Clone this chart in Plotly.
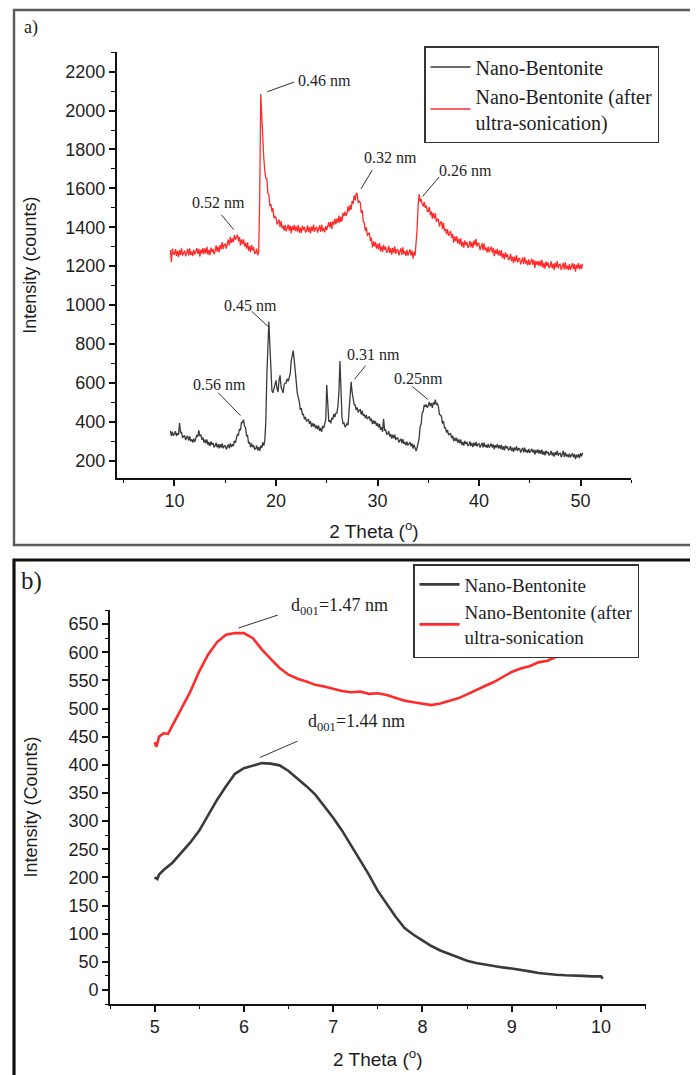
import plotly.graph_objects as go

# ---------------- panel a data (2 theta, degrees) ----------------
TWO_THETA_A = [
    9.6, 9.7, 9.8, 9.9,
    10.0, 10.1, 10.2, 10.3, 10.4, 10.5, 10.6, 10.7, 10.8, 10.9,
    11.0, 11.1, 11.2, 11.3, 11.4, 11.5, 11.6, 11.7, 11.8, 11.9,
    12.0, 12.1, 12.2, 12.3, 12.4, 12.5, 12.6, 12.7, 12.8, 12.9,
    13.0, 13.1, 13.2, 13.3, 13.4, 13.5, 13.6, 13.7, 13.8, 13.9,
    14.0, 14.1, 14.2, 14.3, 14.4, 14.5, 14.6, 14.7, 14.8, 14.9,
    15.0, 15.1, 15.2, 15.3, 15.4, 15.5, 15.6, 15.7, 15.8, 15.9,
    16.0, 16.1, 16.2, 16.3, 16.4, 16.5, 16.6, 16.7, 16.8, 16.9,
    17.0, 17.1, 17.2, 17.3, 17.4, 17.5, 17.6, 17.7, 17.8, 17.9,
    18.0, 18.1, 18.2, 18.3, 18.4, 18.5, 18.6, 18.7, 18.8, 18.9,
    19.0, 19.1, 19.2, 19.3, 19.4, 19.5, 19.6, 19.7, 19.8, 19.9,
    20.0, 20.1, 20.2, 20.3, 20.4, 20.5, 20.6, 20.7, 20.8, 20.9,
    21.0, 21.1, 21.2, 21.3, 21.4, 21.5, 21.6, 21.7, 21.8, 21.9,
    22.0, 22.1, 22.2, 22.3, 22.4, 22.5, 22.6, 22.7, 22.8, 22.9,
    23.0, 23.1, 23.2, 23.3, 23.4, 23.5, 23.6, 23.7, 23.8, 23.9,
    24.0, 24.1, 24.2, 24.3, 24.4, 24.5, 24.6, 24.7, 24.8, 24.9,
    25.0, 25.1, 25.2, 25.3, 25.4, 25.5, 25.6, 25.7, 25.8, 25.9,
    26.0, 26.1, 26.2, 26.3, 26.4, 26.5, 26.6, 26.7, 26.8, 26.9,
    27.0, 27.1, 27.2, 27.3, 27.4, 27.5, 27.6, 27.7, 27.8, 27.9,
    28.0, 28.1, 28.2, 28.3, 28.4, 28.5, 28.6, 28.7, 28.8, 28.9,
    29.0, 29.1, 29.2, 29.3, 29.4, 29.5, 29.6, 29.7, 29.8, 29.9,
    30.0, 30.1, 30.2, 30.3, 30.4, 30.5, 30.6, 30.7, 30.8, 30.9,
    31.0, 31.1, 31.2, 31.3, 31.4, 31.5, 31.6, 31.7, 31.8, 31.9,
    32.0, 32.1, 32.2, 32.3, 32.4, 32.5, 32.6, 32.7, 32.8, 32.9,
    33.0, 33.1, 33.2, 33.3, 33.4, 33.5, 33.6, 33.7, 33.8, 33.9,
    34.0, 34.1, 34.2, 34.3, 34.4, 34.5, 34.6, 34.7, 34.8, 34.9,
    35.0, 35.1, 35.2, 35.3, 35.4, 35.5, 35.6, 35.7, 35.8, 35.9,
    36.0, 36.1, 36.2, 36.3, 36.4, 36.5, 36.6, 36.7, 36.8, 36.9,
    37.0, 37.1, 37.2, 37.3, 37.4, 37.5, 37.6, 37.7, 37.8, 37.9,
    38.0, 38.1, 38.2, 38.3, 38.4, 38.5, 38.6, 38.7, 38.8, 38.9,
    39.0, 39.1, 39.2, 39.3, 39.4, 39.5, 39.6, 39.7, 39.8, 39.9,
    40.0, 40.1, 40.2, 40.3, 40.4, 40.5, 40.6, 40.7, 40.8, 40.9,
    41.0, 41.1, 41.2, 41.3, 41.4, 41.5, 41.6, 41.7, 41.8, 41.9,
    42.0, 42.1, 42.2, 42.3, 42.4, 42.5, 42.6, 42.7, 42.8, 42.9,
    43.0, 43.1, 43.2, 43.3, 43.4, 43.5, 43.6, 43.7, 43.8, 43.9,
    44.0, 44.1, 44.2, 44.3, 44.4, 44.5, 44.6, 44.7, 44.8, 44.9,
    45.0, 45.1, 45.2, 45.3, 45.4, 45.5, 45.6, 45.7, 45.8, 45.9,
    46.0, 46.1, 46.2, 46.3, 46.4, 46.5, 46.6, 46.7, 46.8, 46.9,
    47.0, 47.1, 47.2, 47.3, 47.4, 47.5, 47.6, 47.7, 47.8, 47.9,
    48.0, 48.1, 48.2, 48.3, 48.4, 48.5, 48.6, 48.7, 48.8, 48.9,
    49.0, 49.1, 49.2, 49.3, 49.4, 49.5, 49.6, 49.7, 49.8, 49.9,
    50.0, 50.1, 50.2,
]

NANO_BENTONITE_A = [
    352, 326, 348, 330,
    335, 351, 326, 341, 331, 392, 343, 345, 316, 326,
    327, 305, 320, 326, 302, 324, 300, 309, 292, 312,
    296, 315, 331, 323, 355, 325, 333, 307, 318, 292,
    308, 288, 308, 280, 295, 274, 298, 281, 290, 270,
    275, 292, 268, 284, 262, 284, 267, 288, 263, 275,
    277, 257, 274, 283, 262, 288, 269, 284, 274, 301,
    291, 315, 335, 329, 362, 355, 396, 395, 410, 377,
    370, 327, 329, 288, 295, 268, 288, 269, 278, 258,
    261, 277, 252, 269, 250, 277, 265, 293, 276, 304,
    400, 640, 830, 915, 790, 655, 560, 548, 575, 585,
    612, 570, 552, 612, 638, 578, 565, 548, 590, 598,
    598, 620, 608, 634, 645, 712, 740, 765, 715, 655,
    607, 547, 524, 502, 460, 469, 437, 438, 413, 424,
    401, 410, 413, 389, 402, 373, 392, 375, 389, 365,
    380, 360, 380, 352, 367, 348, 377, 367, 388, 410,
    588, 483, 400, 407, 391, 419, 411, 440, 423, 444,
    445, 478, 555, 712, 548, 425, 390, 393, 372, 382,
    390, 382, 444, 512, 605, 551, 518, 487, 486, 460,
    472, 447, 459, 462, 436, 456, 430, 437, 418, 435,
    413, 423, 427, 403, 416, 387, 406, 389, 403, 378,
    392, 370, 388, 358, 371, 348, 415, 357, 358, 335,
    337, 351, 324, 337, 313, 333, 314, 333, 306, 316,
    316, 293, 307, 312, 288, 310, 286, 295, 278, 297,
    277, 289, 295, 273, 288, 261, 282, 265, 248, 267,
    300, 312, 374, 388, 445, 451, 487, 477, 488, 472,
    480, 501, 480, 495, 471, 499, 488, 513, 486, 492,
    477, 437, 434, 427, 390, 402, 368, 369, 344, 357,
    331, 339, 341, 315, 328, 299, 318, 301, 316, 292,
    308, 288, 308, 280, 296, 276, 301, 285, 295, 276,
    280, 298, 274, 290, 269, 292, 275, 296, 272, 285,
    287, 267, 283, 291, 268, 292, 269, 280, 265, 285,
    266, 279, 287, 266, 283, 258, 279, 267, 284, 263,
    279, 260, 281, 255, 272, 252, 278, 263, 272, 254,
    257, 274, 250, 266, 245, 267, 252, 273, 249, 261,
    262, 241, 257, 265, 242, 266, 243, 254, 239, 259,
    240, 253, 260, 241, 256, 230, 254, 240, 257, 236,
    253, 234, 256, 229, 247, 226, 251, 236, 245, 228,
    232, 249, 226, 241, 220, 243, 228, 249, 225, 236,
    238, 217, 234, 250, 218, 242, 221, 231, 216, 235,
    216, 229, 237, 217, 233, 207, 230, 216, 232, 212,
    238, 222, 240,
]

NANO_BENTONITE_SONIC_A = [
    1283, 1222, 1290, 1262,
    1260, 1288, 1253, 1278, 1246, 1282, 1258, 1292, 1254, 1274,
    1280, 1250, 1276, 1288, 1254, 1292, 1258, 1274, 1252, 1284,
    1259, 1281, 1293, 1263, 1289, 1249, 1285, 1265, 1293, 1261,
    1292, 1265, 1299, 1259, 1285, 1257, 1295, 1272, 1289, 1261,
    1277, 1307, 1274, 1301, 1271, 1309, 1287, 1323, 1287, 1309,
    1315, 1290, 1320, 1337, 1307, 1350, 1320, 1341, 1323, 1360,
    1336, 1354, 1362, 1328, 1350, 1306, 1338, 1314, 1338, 1302,
    1320, 1290, 1322, 1279, 1303, 1272, 1308, 1282, 1297, 1266,
    1268, 1290, 1255, 1276, 1560, 2085, 1960, 1790, 1755, 1690,
    1652, 1650, 1575, 1570, 1508, 1519, 1480, 1499, 1446, 1456,
    1450, 1414, 1434, 1440, 1400, 1432, 1395, 1408, 1383, 1412,
    1379, 1401, 1413, 1383, 1409, 1369, 1405, 1385, 1412, 1380,
    1405, 1378, 1412, 1372, 1398, 1370, 1408, 1385, 1402, 1374,
    1382, 1410, 1375, 1400, 1368, 1404, 1380, 1414, 1376, 1396,
    1402, 1372, 1398, 1410, 1376, 1414, 1380, 1396, 1374, 1406,
    1386, 1411, 1426, 1399, 1428, 1391, 1430, 1413, 1444, 1415,
    1445, 1422, 1460, 1424, 1454, 1430, 1474, 1457, 1480, 1458,
    1472, 1508, 1481, 1514, 1490, 1534, 1520, 1564, 1538, 1576,
    1570, 1525, 1536, 1528, 1474, 1487, 1428, 1424, 1382, 1399,
    1356, 1368, 1370, 1330, 1346, 1296, 1327, 1302, 1325, 1290,
    1315, 1286, 1319, 1277, 1302, 1272, 1309, 1284, 1300, 1270,
    1277, 1304, 1268, 1292, 1259, 1294, 1269, 1302, 1263, 1282,
    1285, 1255, 1280, 1292, 1258, 1296, 1262, 1276, 1253, 1284,
    1254, 1275, 1286, 1255, 1280, 1239, 1274, 1254, 1320, 1388,
    1510, 1570, 1532, 1545, 1520, 1508, 1530, 1500, 1512, 1482,
    1482, 1504, 1463, 1482, 1444, 1474, 1444, 1472, 1428, 1442,
    1440, 1404, 1424, 1430, 1390, 1422, 1382, 1392, 1364, 1390,
    1356, 1373, 1380, 1345, 1366, 1321, 1353, 1329, 1353, 1317,
    1340, 1311, 1343, 1301, 1325, 1295, 1332, 1308, 1324, 1295,
    1302, 1330, 1297, 1324, 1294, 1332, 1308, 1340, 1300, 1318,
    1315, 1283, 1307, 1317, 1281, 1317, 1281, 1295, 1271, 1301,
    1271, 1291, 1301, 1269, 1293, 1251, 1285, 1263, 1289, 1255,
    1280, 1251, 1283, 1241, 1265, 1235, 1271, 1246, 1261, 1231,
    1237, 1263, 1226, 1249, 1215, 1249, 1224, 1257, 1218, 1237,
    1240, 1209, 1234, 1245, 1210, 1247, 1213, 1229, 1204, 1235,
    1206, 1227, 1238, 1207, 1232, 1191, 1227, 1206, 1226, 1201,
    1227, 1199, 1233, 1192, 1217, 1187, 1224, 1200, 1219, 1191,
    1197, 1224, 1189, 1213, 1181, 1217, 1193, 1226, 1188, 1207,
    1210, 1180, 1205, 1217, 1182, 1220, 1186, 1202, 1179, 1211,
    1181, 1203, 1215, 1185, 1211, 1171, 1207, 1187, 1215, 1183,
    1208, 1186, 1212,
]

LABELS_A = ["0.52 nm", "0.46 nm", "0.32 nm", "0.26 nm",
            "0.45 nm", "0.56 nm", "0.31 nm", "0.25nm"]
LABEL_X_A = [14.31, 24.77, 31.32, 38.71, 17.47, 14.4, 29.57, 34.0]
LABEL_Y_A = [1526, 2153, 1757, 1694, 997, 589, 745, 621]
LEADER_X0_A = [14.62, 19.14, 29.48, 36.07, 17.61, 14.31, 28.82, 33.43]
LEADER_Y0_A = [1464, 2097, 1694, 1659, 967, 549, 688, 581]
LEADER_X1_A = [15.84, 21.79, 28.37, 34.44, 19.28, 16.5, 27.72, 34.97]
LEADER_Y1_A = [1388, 2147, 1597, 1558, 887, 431, 617, 514]

# ---------------- panel b data ----------------
TWO_THETA_B_BLACK = [
    5.00, 5.03, 5.05, 5.1, 5.2, 5.3, 5.4, 5.5, 5.6, 5.7, 5.8, 5.9,
    6.0, 6.1, 6.2, 6.3, 6.4, 6.5, 6.6, 6.7, 6.8, 6.9,
    7.0, 7.1, 7.2, 7.3, 7.4, 7.5, 7.6, 7.7, 7.8, 7.9,
    8.0, 8.1, 8.2, 8.3, 8.4, 8.5, 8.6, 8.7, 8.8, 8.9,
    9.0, 9.1, 9.2, 9.3, 9.4, 9.5, 9.6, 9.7, 9.8, 9.9,
    10.0, 10.02,
]
NANO_BENTONITE_B = [
    200, 197, 205, 213, 226, 244, 262, 283, 310, 338, 362, 384,
    394, 399, 403, 402, 399, 389, 376, 362, 347, 327,
    306, 283, 257, 233, 205, 176, 152, 130, 110, 98,
    88, 78, 70, 64, 57, 52, 48, 45, 42, 40,
    38, 36, 33, 30, 28, 27, 26, 26, 25, 24,
    24, 20,
]

TWO_THETA_B_RED = [
    5.00, 5.02, 5.05, 5.1, 5.15, 5.2, 5.3, 5.4, 5.5, 5.6, 5.7, 5.8, 5.9,
    6.0, 6.1, 6.2, 6.3, 6.4, 6.5, 6.6, 6.7, 6.8, 6.9,
    7.0, 7.1, 7.2, 7.3, 7.4, 7.5, 7.6, 7.7, 7.8, 7.9,
    8.0, 8.1, 8.2, 8.3, 8.4, 8.5, 8.6, 8.7, 8.8, 8.9,
    9.0, 9.1, 9.2, 9.3, 9.4, 9.5, 9.6, 9.7, 9.8, 9.9,
    9.95, 10.0, 10.02,
]
NANO_BENTONITE_SONIC_B = [
    440, 432, 450, 456, 455, 470, 500, 530, 566, 596, 618, 631, 634,
    634, 625, 605, 588, 572, 560, 553, 548, 542, 539,
    535, 531, 529, 530, 526, 527, 524, 519, 514, 511,
    508, 506, 509, 513, 518, 525, 533, 540, 547, 556,
    565, 571, 575, 582, 585, 592, 598, 604, 607, 612,
    605, 612, 620,
]

LABELS_B = ["d<sub>001</sub>=1.47 nm", "d<sub>001</sub>=1.44 nm"]
LABEL_X_B = [7.07, 7.26]
LABEL_Y_B = [681, 451]
LEADER_X0_B = [5.94, 6.18]
LEADER_Y0_B = [643, 413]
LEADER_X1_B = [6.38, 6.6]
LEADER_Y1_B = [666, 442]

SERIES_NAMES = ["Nano-Bentonite", "Nano-Bentonite (after<br>ultra-sonication)",
                "Nano-Bentonite (after<br>ultra-sonication"]

# ---------------- styling ----------------
W, H = 690, 1067          # page body has an 8px margin inside the 698x1075 window
OFF = 8


def px(xpix):
    return (xpix - OFF) / W


def py(ypix):
    return 1 - (ypix - OFF) / H


BLACK = "#3a3a3a"
RED = "#ff2b2b"
SERIF = "Liberation Serif, Times New Roman, serif"
SANS = "Liberation Sans, Arial, sans-serif"
TXT = "#1e1e1e"

fig = go.Figure()
fig.add_trace(go.Scatter(x=TWO_THETA_A, y=NANO_BENTONITE_A, mode="lines",
                         line=dict(color=BLACK, width=1.3), name=SERIES_NAMES[0],
                         xaxis="x", yaxis="y", legend="legend"))
fig.add_trace(go.Scatter(x=TWO_THETA_A, y=NANO_BENTONITE_SONIC_A, mode="lines",
                         line=dict(color=RED, width=1.3), name=SERIES_NAMES[1],
                         xaxis="x", yaxis="y", legend="legend"))
fig.add_trace(go.Scatter(x=TWO_THETA_B_BLACK, y=NANO_BENTONITE_B, mode="lines",
                         line=dict(color=BLACK, width=2.6), name=SERIES_NAMES[0],
                         xaxis="x2", yaxis="y2", legend="legend2"))
fig.add_trace(go.Scatter(x=TWO_THETA_B_RED, y=NANO_BENTONITE_SONIC_B, mode="lines",
                         line=dict(color=RED, width=2.6), name=SERIES_NAMES[2],
                         xaxis="x2", yaxis="y2", legend="legend2"))

axis_common = dict(showline=True, linecolor="#111", linewidth=1.6, ticks="outside",
                   ticklen=6, tickwidth=1.5, tickcolor="#111", showgrid=False,
                   zeroline=False, mirror=False,
                   tickfont=dict(family=SANS, size=18, color=TXT))
minor_common = dict(ticks="outside", ticklen=3.5, tickwidth=1.3, tickcolor="#111")
xtitle_font = dict(family=SANS, size=19, color=TXT)
ytitle_font = dict(family=SANS, size=18, color=TXT)

fig.update_layout(
    width=W, height=H,
    margin=dict(l=0, r=0, t=0, b=0),
    paper_bgcolor="white", plot_bgcolor="white",
    xaxis=dict(domain=[px(116.6), px(631.3)], range=[4.3, 55], anchor="y", dtick=10, tick0=0,
               minor=dict(dtick=5, **minor_common),
               title=dict(text="2 Theta (<sup>o</sup>)", font=xtitle_font, standoff=14),
               **axis_common),
    yaxis=dict(domain=[py(478), py(52.3)], range=[110, 2300], anchor="x", dtick=200, tick0=0,
               minor=dict(dtick=100, **minor_common),
               title=dict(text="Intensity (counts)", font=ytitle_font, standoff=24),
               **axis_common),
    xaxis2=dict(domain=[px(110), px(645.6)], range=[4.5, 10.5], anchor="y2", dtick=1, tick0=0,
                minor=dict(dtick=0.5, **minor_common),
                title=dict(text="2 Theta (<sup>o</sup>)", font=xtitle_font, standoff=16),
                **axis_common),
    yaxis2=dict(domain=[py(1004), py(610)], range=[-25, 675], anchor="x2", dtick=50, tick0=0,
                minor=dict(dtick=25, **minor_common),
                title=dict(text="Intensity (Counts)", font=ytitle_font, standoff=26),
                **axis_common),
    legend=dict(x=px(424), y=py(46), xanchor="left", yanchor="top",
                bgcolor="white", bordercolor="#333", borderwidth=1.5, itemwidth=40,
                font=dict(family=SERIF, size=20, color=TXT), tracegroupgap=0),
    legend2=dict(x=px(413), y=py(564), xanchor="left", yanchor="top",
                 bgcolor="white", bordercolor="#333", borderwidth=1.5, itemwidth=40,
                 font=dict(family=SERIF, size=19, color=TXT), tracegroupgap=0),
    showlegend=True,
)

shapes = []
annotations = []
for i, lab in enumerate(LABELS_A):
    annotations.append(dict(x=LABEL_X_A[i], y=LABEL_Y_A[i], xref="x", yref="y", text=lab,
                            showarrow=False, font=dict(family=SERIF, size=16, color=TXT)))
    shapes.append(dict(type="line", xref="x", yref="y", x0=LEADER_X0_A[i], y0=LEADER_Y0_A[i],
                       x1=LEADER_X1_A[i], y1=LEADER_Y1_A[i], line=dict(color="#333", width=1)))

# convert panel-b label heights to paper units (the top label sits above the axis range)
b_y0, b_y1 = py(1004), py(610)
for i, lab in enumerate(LABELS_B):
    yp = b_y0 + (LABEL_Y_B[i] - (-25)) / (675 - (-25)) * (b_y1 - b_y0)
    annotations.append(dict(x=LABEL_X_B[i], y=yp, xref="x2", yref="paper", text=lab,
                            showarrow=False, font=dict(family=SERIF, size=18, color=TXT)))
    shapes.append(dict(type="line", xref="x2", yref="y2", x0=LEADER_X0_B[i], y0=LEADER_Y0_B[i],
                       x1=LEADER_X1_B[i], y1=LEADER_Y1_B[i], line=dict(color="#333", width=1)))

# panel frames
shapes.append(dict(type="rect", xref="paper", yref="paper", x0=px(14), x1=1.02,
                   y0=py(545), y1=py(10), line=dict(color="#5a5a5a", width=2.4),
                   layer="below"))
shapes.append(dict(type="rect", xref="paper", yref="paper", x0=px(14), x1=1.02,
                   y0=-0.02, y1=py(560), line=dict(color="#111", width=3.2),
                   layer="below"))
annotations.append(dict(x=px(22), y=py(28), xref="paper", yref="paper", text="a)",
                        showarrow=False, xanchor="left", yanchor="middle",
                        font=dict(family=SERIF, size=18, color=TXT)))
annotations.append(dict(x=px(19), y=py(581), xref="paper", yref="paper", text="b)",
                        showarrow=False, xanchor="left", yanchor="middle",
                        font=dict(family=SERIF, size=25, color=TXT)))

fig.update_layout(shapes=shapes, annotations=annotations)
fig.write_html("out.html")
